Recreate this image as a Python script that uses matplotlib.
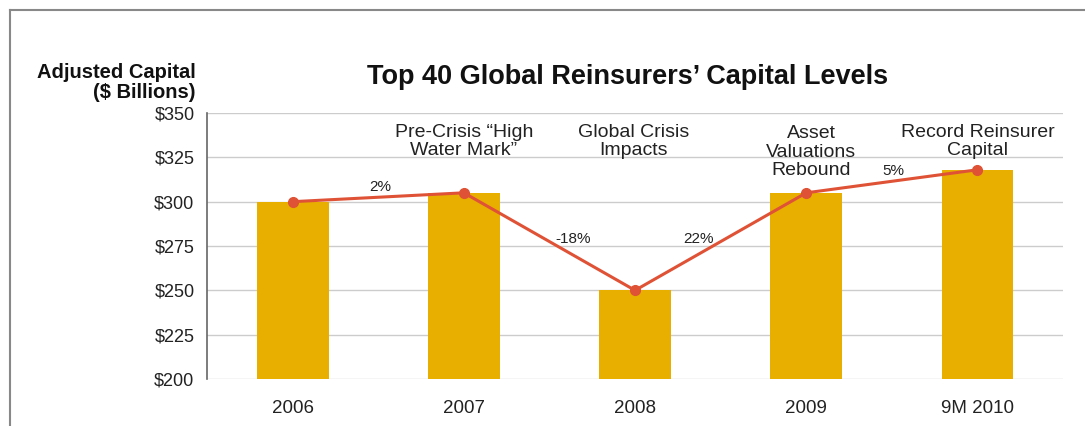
import matplotlib
matplotlib.use("Agg")
import matplotlib.pyplot as plt
from matplotlib.lines import Line2D

plt.rcParams['font.family'] = ['Liberation Sans', 'DejaVu Sans']

# capital levels, $ billions
years = ['2006', '2007', '2008', '2009', '9M 2010']
capital = [300, 305, 250, 305, 318]

# year-over-year change labels, placed between the points
changes = ['2%', '-18%', '22%', '5%']
change_x = [0.51, 1.64, 2.37, 3.51]
change_y = [308.5, 279, 279, 317.5]

# captions above the bars
captions = ['Pre-Crisis \u201cHigh\nWater Mark\u201d', 'Global Crisis\nImpacts',
            'Asset\nValuations\nRebound', 'Record Reinsurer\nCapital']
caption_x = [1, 1.99, 3.03, 4.0]
caption_y = [334, 334, 328, 334]

yticks = [200, 225, 250, 275, 300, 325, 350]

bar_color = '#E8AE00'
line_color = '#DF5236'
text_color = '#222222'

fig = plt.figure(figsize=(10.85, 4.26), dpi=100)
ax = fig.add_axes([0.1908, 0.1103, 0.789, 0.6244])

x = list(range(len(years)))
ax.bar(x, [c - 200 for c in capital], bottom=200, width=0.42,
       color=bar_color, zorder=2)
ax.plot(x, capital, color=line_color, lw=2.2, marker='o', ms=7,
        zorder=3)

for lbl, px, py in zip(changes, change_x, change_y):
    ax.text(px, py, lbl, ha='center', va='center', fontsize=11,
            color=text_color, zorder=4)

for lbl, px, py in zip(captions, caption_x, caption_y):
    ax.text(px, py, lbl, ha='center', va='center', fontsize=14,
            color=text_color, linespacing=1.12, zorder=4)

ax.set_xlim(-0.5, 4.5)
ax.set_ylim(200, 350)
ax.set_yticks(yticks)
ax.set_yticklabels(['$%d' % v for v in yticks])
ax.set_xticks(x)
ax.set_xticklabels(years)
ax.tick_params(axis='y', length=0, pad=9, labelsize=13, labelcolor=text_color)
ax.tick_params(axis='x', length=0, pad=15, labelsize=13.5, labelcolor=text_color)
ax.grid(axis='y', color='#CCCCCC', lw=1, zorder=0)
ax.set_axisbelow(True)
for side in ['top', 'right', 'bottom']:
    ax.spines[side].set_visible(False)
ax.spines['left'].set_color('#666666')
ax.spines['left'].set_linewidth(1.2)

fig.text(0.578, 0.82, 'Top 40 Global Reinsurers\u2019 Capital Levels',
         ha='center', va='center', fontsize=19.5, fontweight='bold',
         color='#111111')
fig.text(0.180, 0.806, 'Adjusted Capital\n($ Billions)', ha='right',
         va='center', multialignment='right', fontsize=14.5,
         fontweight='bold', color='#111111', linespacing=1.1)

# frame around the slide
fig.add_artist(Line2D([0.0092, 1.0], [0.976, 0.976], color='#888888', lw=1.5))
fig.add_artist(Line2D([0.0092, 0.0092], [0.0, 0.976], color='#888888', lw=1.5))

fig.savefig('out.png', dpi=100)
